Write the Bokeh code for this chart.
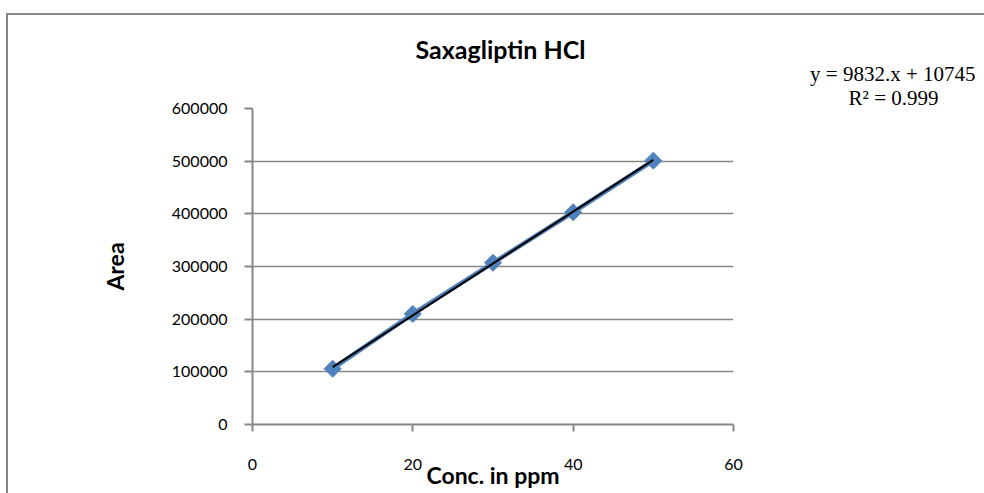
import numpy as np
from bokeh.plotting import figure
from bokeh.models import Range1d, FixedTicker, ColumnDataSource, Title
from bokeh.embed import file_html
from bokeh.resources import INLINE

# ---- data ----
conc = [10, 20, 30, 40, 50]
area = [106000, 210000, 307000, 403000, 501000]
slope = 9832
intercept = 10745
x_ticks = [0, 20, 40, 60]
y_ticks = [0, 100000, 200000, 300000, 400000, 500000, 600000]
title_text = "Saxagliptin HCl"
eq_text = "y = 9832.x + 10745"
r2_text = "R\u00b2 = 0.999"
x_label = "Conc. in ppm"
y_label = "Area"

BLUE = "#4F81BD"
GRAY = "#878787"
SANS = "Lato"
SERIF = "Liberation Serif"

p = figure(width=1000, height=490, output_backend="svg", toolbar_location=None,
           x_range=Range1d(0, 60), y_range=Range1d(0, 600000),
           min_border_left=244, min_border_right=275, min_border_top=93,
           min_border_bottom=81,
           styles={"margin-left": "8px", "margin-top": "15px",
                   "box-shadow": "-2px -2px 0px 0px #868686"})
p.outline_line_color = None
p.background_fill_color = "white"
p.border_fill_color = "white"

for ax in (p.xaxis[0], p.yaxis[0]):
    ax.axis_line_color = GRAY
    ax.axis_line_width = 2
    ax.major_tick_line_color = GRAY
    ax.major_tick_line_width = 2
    ax.minor_tick_line_color = None
    ax.major_label_text_font = SANS
    ax.major_label_text_font_size = "16px"
    ax.major_label_text_color = "black"
    ax.axis_label_text_font = SANS
    ax.axis_label_text_font_style = "bold"
    ax.axis_label_text_font_size = "23px"
    ax.axis_label_text_color = "black"

p.xaxis[0].ticker = FixedTicker(ticks=x_ticks)
p.yaxis[0].ticker = FixedTicker(ticks=y_ticks)
p.xaxis[0].major_tick_in = 0
p.xaxis[0].major_tick_out = 7
p.yaxis[0].major_tick_in = 0
p.yaxis[0].major_tick_out = 8
p.xaxis[0].major_label_standoff = 27
p.yaxis[0].major_label_standoff = 17
p.yaxis[0].formatter.use_scientific = False
p.xaxis[0].axis_label = x_label
p.yaxis[0].axis_label = y_label
p.xaxis[0].axis_label_standoff = -12
p.yaxis[0].axis_label_standoff = 40

p.xgrid.grid_line_color = None
p.ygrid.grid_line_color = GRAY
p.ygrid.grid_line_width = 1.5

src = ColumnDataSource(dict(x=conc, y=area))
p.line("x", "y", source=src, line_color=BLUE, line_width=4.5)
p.scatter("x", "y", source=src, marker="square", angle=np.pi / 4, size=12,
          fill_color=BLUE, line_color=BLUE)

tx = np.array([conc[0], conc[-1]], dtype=float)
ty = slope * tx + intercept
p.line(tx, ty, line_color="black", line_width=2)

# titles stacked above the frame (first added = closest to the frame)
p.add_layout(Title(text=r2_text, text_font=SERIF, text_font_size="21px",
                   text_font_style="normal", text_color="black",
                   align="right", offset=-205, standoff=-3), "above")
p.add_layout(Title(text=eq_text, text_font=SERIF, text_font_size="21px",
                   text_font_style="normal", text_color="black",
                   align="right", offset=-242, standoff=-1), "above")
p.add_layout(Title(text=title_text, text_font=SANS, text_font_size="25px",
                   text_font_style="bold", text_color="black",
                   align="left", offset=163, standoff=-7), "above")

open("out.html", "w").write(file_html(p, INLINE))
